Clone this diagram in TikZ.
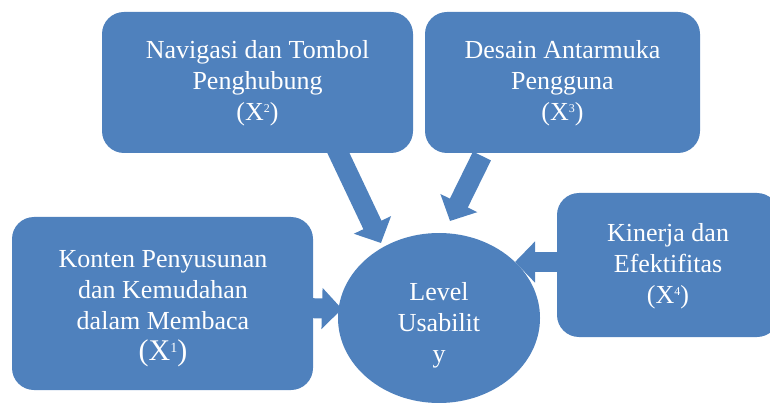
\documentclass[tikz,border=0pt]{standalone}
\usepackage{fontspec}
\setmainfont{Liberation Serif}
\usetikzlibrary{arrows.meta}
\definecolor{sablue}{HTML}{4F81BD}
\newcommand{\supsm}[1]{\raisebox{0.62ex}{\fontsize{12}{12}\selectfont #1}}
\newcommand{\supbig}[1]{\raisebox{0.62ex}{\fontsize{14}{14}\selectfont #1}}
\tikzset{
  lbl/.style={text=white, align=center, font=\fontsize{26}{31}\selectfont},
  blockarrow/.style={draw=sablue, line width=20pt, -{Triangle[length=20pt,width=40pt,fill=sablue]}}
}
\begin{document}
\begin{tikzpicture}[x=1pt,y=-1pt]
\useasboundingbox (0,0) rectangle (770,403);
\begin{scope}
\clip (0,0) rectangle (770,403);
% circle
\fill[sablue] (439,318) ellipse [x radius=101, y radius=85];
% arrow anchor coordinates
\coordinate (a2s) at (336,148);
\coordinate (a2e) at (381,243);
\coordinate (a3s) at (482,156);
\coordinate (a3e) at (450,221);
\coordinate (a1s) at (305,308);
\coordinate (a1e) at (342,309);
\coordinate (a4s) at (562,262);
\coordinate (a4e) at (515,262);
\draw[blockarrow] (a2s) -- (a2e);
\draw[blockarrow] (a3s) -- (a3e);
\draw[blockarrow] (a1s) -- (a1e);
\draw[blockarrow] (a4s) -- (a4e);
% boxes
\fill[sablue, rounded corners=22pt] (102,12) rectangle (413,153);
\fill[sablue, rounded corners=22pt] (425,12) rectangle (700,153);
\fill[sablue, rounded corners=22pt] (12,217) rectangle (313,390);
\fill[sablue, rounded corners=22pt] (557,193) rectangle (779,337);
\end{scope}
\node[lbl] (x2) at (257.5,83) {Navigasi dan Tombol\\Penghubung\\(X\supsm{2})};
\node[lbl] (x3) at (562.5,83) {Desain Antarmuka\\Pengguna\\(X\supsm{3})};
\node[lbl] (x1) at (163,309) {Konten Penyusunan\\dan Kemudahan\\dalam Membaca\\{\fontsize{30}{36}\selectfont(X\supbig{1})}};
\node[lbl] (x4) at (668,266) {Kinerja dan\\Efektifitas\\(X\supsm{4})};
\node[lbl] (y) at (439,325) {Level\\Usabilit\\y};
\end{tikzpicture}
\end{document}
